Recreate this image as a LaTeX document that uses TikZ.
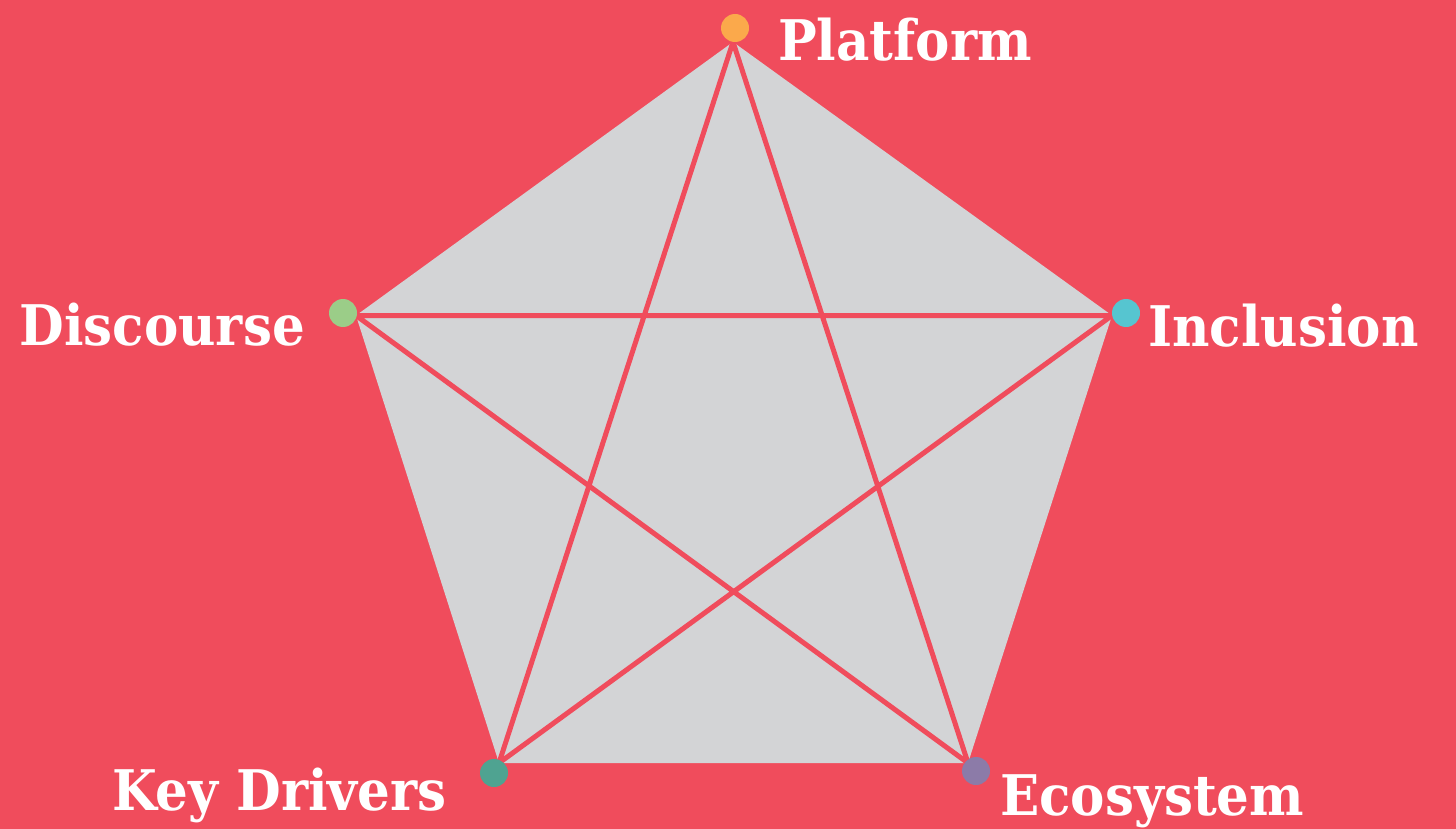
\documentclass[tikz,border=0pt]{standalone}
\usepackage{fontspec}
\newfontfamily\labelfont[FakeStretch=0.92]{DejaVu Serif}
\definecolor{bgred}{HTML}{F04C5C}
\definecolor{pentgray}{HTML}{D3D4D6}
\definecolor{dotorange}{HTML}{FBA94B}
\definecolor{dotgreen}{HTML}{9BCD88}
\definecolor{dotcyan}{HTML}{56C5D0}
\definecolor{dotteal}{HTML}{4FA391}
\definecolor{dotpurple}{HTML}{8C7BA8}
\tikzset{
  starline/.style={draw=bgred, line width=5pt, line cap=round},
  dotnode/.style={circle, inner sep=0pt, minimum size=28pt, draw=none},
  lbl/.style={text=white, inner sep=0pt, font=\labelfont\bfseries\fontsize{56}{68}\selectfont}
}
\begin{document}
\begin{tikzpicture}[x=1pt,y=-1pt]
\fill[bgred] (0,0) rectangle (1456,829);
\useasboundingbox (0,0) rectangle (1456,829);
\coordinate (T) at (733,42);
\coordinate (L) at (356,315.5);
\coordinate (R) at (1112,315.5);
\coordinate (BL) at (499,763);
\coordinate (BR) at (968,763);
\fill[pentgray] (T) -- (R) -- (BR) -- (BL) -- (L) -- cycle;
\draw[starline] (T) -- (BL) (T) -- (BR) (L) -- (R) (L) -- (BR) (R) -- (BL);
\node[dotnode, fill=dotorange] (dT) at (735,28) {};
\node[dotnode, fill=dotgreen] (dL) at (343,313) {};
\node[dotnode, fill=dotcyan] (dR) at (1126,313) {};
\node[dotnode, fill=dotteal] (dBL) at (494,773) {};
\node[dotnode, fill=dotpurple] (dBR) at (976,771) {};
\node[lbl, anchor=base west] (tT) at (778,61) {Platform};
\node[lbl, anchor=base east] (tL) at (305,345) {Discourse};
\node[lbl, anchor=base west] (tR) at (1148,346) {Inclusion};
\node[lbl, anchor=base east] (tBL) at (447,810) {Key Drivers};
\node[lbl, anchor=base west] (tBR) at (1000,815) {Ecosystem};
\end{tikzpicture}
\end{document}
